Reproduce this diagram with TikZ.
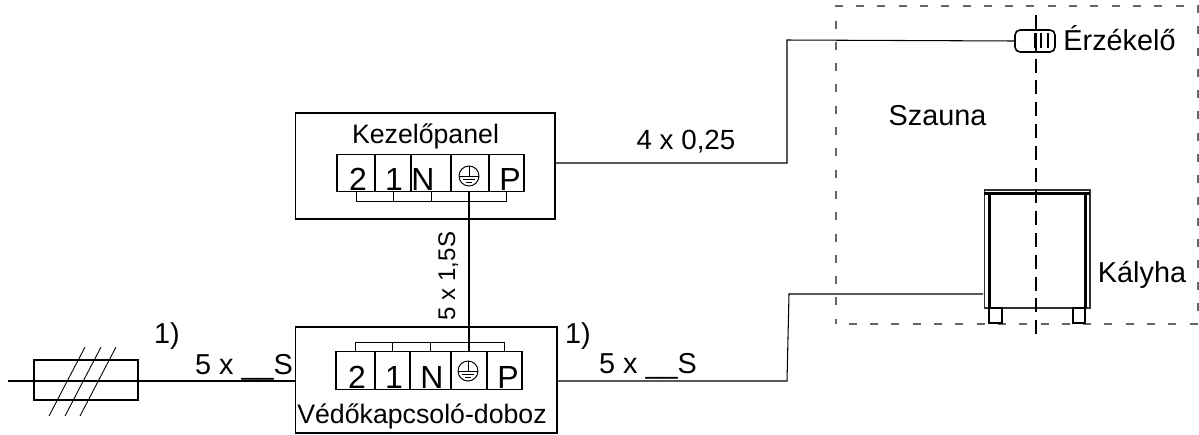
\documentclass[tikz,border=0pt]{standalone}
\usepackage{fontspec}
\setmainfont{Liberation Sans}
\usetikzlibrary{positioning, calc}

\tikzset{
  box/.style={draw, line width=0.6pt, inner sep=0pt, outer sep=0pt},
  cell/.style={box, minimum height=0.75cm},
  wire/.style={line width=0.6pt},
  bridge/.style={line width=0.5pt},
  txt/.style={inner sep=0pt, outer sep=0pt, anchor=base, font=\fontsize{16.4}{18}\selectfont},
  smalltxt/.style={txt, font=\fontsize{15.2}{18}\selectfont},
  termtxt/.style={txt, font=\fontsize{18.2}{20}\selectfont},
  earthmark/.pic={
    \draw [line width=0.55pt] (0,0) circle [radius=10];
    \draw [line width=0.55pt] (0,-10) -- (0,0);
    \draw [line width=0.55pt] (-10,0) -- (10,0);
    \draw [line width=0.55pt] (-6,3.3) -- (6,3.3);
    \draw [line width=1pt] (-3,6.6) -- (3,6.6);
  }
}

\begin{document}
\begin{tikzpicture}[x=0.02cm, y=-0.02cm]
      \useasboundingbox (0,0) rectangle (1199,434);

      % sauna room
      \node [box, draw=black!60, line width=0.95pt, dash pattern=on 0.16cm off 0.266cm, dash phase=0.17cm, minimum width=7.24cm, minimum height=6.36cm] (sauna) at (1017,165) {};
      \node [txt] (saunatxt) at (937.5,125) {Szauna};

      % control panel
      \node [box, minimum width=5.2cm, minimum height=2.12cm] (kp) at (425,166) {};
      \node [smalltxt] (kptxt) at (425.5,143) {Kezelőpanel};
      \node [cell, minimum width=0.76cm] (kp2) at (356,173) {};
      \node [cell, minimum width=0.72cm] (kp1) at (393,173) {};
      \node [cell, minimum width=0.80cm] (kpN) at (431,173) {};
      \node [cell, minimum width=0.76cm] (kpE) at (470,173) {};
      \node [cell, minimum width=0.70cm] (kpP) at (506.5,173) {};
      \node [termtxt] (kp2txt) at (358,190) {2};
      \node [termtxt] (kp1txt) at (394,190) {1};
      \node [termtxt] (kpNtxt) at (423,190) {N};
      \node [termtxt] (kpPtxt) at (510,190) {P};
      \pic at (469,176) {earthmark};

      % protection box
      \node [box, minimum width=5.24cm, minimum height=2.12cm] (vd) at (426,380) {};
      \node [smalltxt] (vdtxt) at (422,423) {Védőkapcsoló-doboz};
      \node [cell, minimum width=0.78cm] (vd2) at (355.5,370.5) {};
      \node [cell, minimum width=0.70cm] (vd1) at (392.5,370.5) {};
      \node [cell, minimum width=0.82cm] (vdN) at (430.5,370.5) {};
      \node [cell, minimum width=0.72cm] (vdE) at (469,370.5) {};
      \node [cell, minimum width=0.70cm] (vdP) at (504.5,370.5) {};
      \node [termtxt] (vd2txt) at (357,388) {2};
      \node [termtxt] (vd1txt) at (394,388) {1};
      \node [termtxt] (vdNtxt) at (432,388) {N};
      \node [termtxt] (vdPtxt) at (508,388) {P};
      \pic at (468,371) {earthmark};

      % fuse
      \node [box, minimum width=2.08cm, minimum height=0.8cm] (fuse) at (86,380) {};
      \coordinate (feed) at (8,381);
      \draw [wire] (feed) -- (feed -| vd.west);
      \coordinate (cutA) at (49,416);
      \coordinate (cutB) at (65,416);
      \coordinate (cutC) at (80,416);
      \draw [bridge] (cutA) -- ++(36,-69);
      \draw [bridge] (cutB) -- ++(36,-69);
      \draw [bridge] (cutC) -- ++(36,-69);

      % sensor
      \node [box, line width=0.9pt, rounded corners=0.1cm, minimum width=0.8cm, minimum height=0.44cm] (sensor) at (1035,41) {};
      \node [txt] (sensortxt) at (1119.5,50) {Érzékelő};
      \coordinate (barA) at (1035.5,33);
      \coordinate (barB) at (1041,33);
      \coordinate (barC) at (1048,33);
      \draw [line width=1.4pt] (barA) -- ++(0,15);
      \draw [line width=1.4pt] (barB) -- ++(0,15);
      \draw [line width=1.4pt] (barC) -- ++(0,15);

      % stove
      \node [box, draw=black!80, minimum width=2.12cm, minimum height=2.36cm] (stove) at (1037,249) {};
      \node [txt] (stovetxt) at (1142,282) {Kályha};
      \node [box, minimum width=0.26cm, minimum height=0.30cm] (footL) at (995.5,315.5) {};
      \node [box, minimum width=0.24cm, minimum height=0.30cm] (footR) at (1079,315.5) {};
      \coordinate (capL) at (984,193.5);
      \coordinate (capR) at (1090,193.5);
      \coordinate (sideL) at (989,192);
      \coordinate (sideR) at (1085,192);
      \draw [line width=1.5pt] (capL) -- (capR);
      \draw [line width=1.7pt] (sideL) -- (sideL |- stove.south);
      \draw [line width=1.7pt] (sideR) -- (sideR |- stove.south);

      % centre line
      \coordinate (axisA) at (1036,15);
      \coordinate (axisB) at (1036,336);
      \draw [line width=1.35pt, dash pattern=on 0.28cm off 0.156cm] (axisA) -- (axisB);

      % panel to sensor
      \coordinate (kpout) at (555,163);
      \coordinate (kpbend) at (787,163);
      \coordinate (sensorbend) at (787,40);
      \draw [wire] (kpout) -- (kpbend) -- (sensorbend) -- (sensor.west);
      \node [txt, font=\fontsize{15.8}{18}\selectfont] (ctltxt) at (686,149) {4 x 0,25};

      % box to stove
      \coordinate (vdout) at (557,381);
      \coordinate (vdbend) at (787,381);
      \coordinate (stovebend) at (789,294);
      \coordinate (stovein) at (983,294);
      \draw [wire] (vdout) -- (vdbend) -- (stovebend) -- (stovein);

      % panel to box
      \draw [line width=1.1pt] (vdE.north |- kpE.south) -- (vdE.north);
      \node [txt, font=\fontsize{13.7}{16}\selectfont, rotate=90] (linktxt) at (455,276) {5 x 1,5S};

      % bridges
      \draw [bridge] (kp2.south) -- ++(0,10) -| (kpP.south);
      \draw [bridge] (kp1.south) -- ++(0,10);
      \draw [bridge] (kpN.south) -- ++(0,10);
      \draw [bridge] (vd2.north) -- ++(0,-9) -| (vdP.north);
      \draw [bridge] (vd1.north) -- ++(0,-9);
      \draw [bridge] (vdN.north) -- ++(0,-9);

      % cable labels
      \node [txt] (onetxtA) at (167,343) {1)};
      \node [txt] (onetxtB) at (578,343) {1)};
      \node [txt] (cabletxtA) at (244,374) {5 x \_\_S};
      \node [txt] (cabletxtB) at (648,373) {5 x \_\_S};
    \end{tikzpicture}
\end{document}
